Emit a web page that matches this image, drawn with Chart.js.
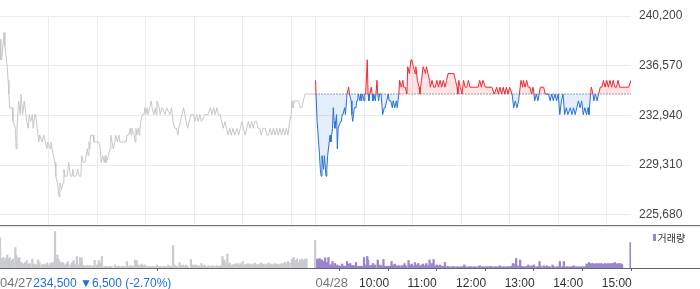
<!DOCTYPE html>
<html>
<head>
<meta charset="utf-8">
<script src="https://cdn.jsdelivr.net/npm/chart.js@4.4.1/dist/chart.umd.min.js"></script>
<style>
  html, body { margin:0; padding:0; background:#fff; }
  #wrap { position:relative; width:700px; height:289px; overflow:hidden; background:#fff; }
  #priceCanvas { position:absolute; left:0; top:0; }
  #volCanvas { position:absolute; left:0; top:226px; }
</style>
</head>
<body>
<div id="wrap">
  <canvas id="priceCanvas" width="700" height="240"></canvas>
  <canvas id="volCanvas" width="700" height="63"></canvas>
</div>
<script>
// ---------- data ----------
const prevClose = 234500;
const sessionMinutes = 390;           // 09:00 - 15:30
const yTicks = [225680, 229310, 232940, 236570, 240200];
const yMin = 224950, yMax = 240200;
const gridMinutes = [60,120,180,240,300,360,390,450,510,570,630,690,750];
const xTickMinutes = [0,390,450,510,570,630,690,750];
const xTickLabels = ['04/27','04/28','10:00','11:00','12:00','13:00','14:00','15:00'];
const infoText = '234,500 ▼6,500 (-2.70%)';
const legendText = '거래량';

// 04/27 (minutes after 09:00)
const day1Minutes = [
  0,1,2,5,6,7,9,10,11,12,
  15,16,19,20,21,23,25,26,28,30,
  31,33,35,36,38,40,41,43,44,46,
  48,49,52,54,56,58,59,62,63,66,
  68,69,71,73,74,76,78,79,80,83,
  85,87,89,90,91,94,96,98,100,101,
  103,105,108,109,110,111,112,115,116,120,
  122,124,125,127,129,130,131,134,136,137,
  140,142,143,145,147,148,151,153,156,157,
  159,161,162,163,166,167,168,169,171,172,
  173,174,176,178,179,180,182,183,185,187,
  188,190,192,193,194,197,198,200,201,204,
  206,210,212,214,216,218,220,221,223,225,
  227,230,232,234,236,239,241,243,245,247,
  249,253,257,260,262,264,266,268,270,272,
  274,276,278,280,282,284,286,288,290,293,
  295,297,299,301,303,305,307,309,311,313,
  315,317,319,321,323,325,328,330,332,334,
  336,338,340,342,344,346,348,350,352,354,
  356,358,360,361,362,364,367,369,371,373,
  375,377,381,390
];
const day1Prices = [
  238500,237000,237000,239000,238000,237500,236500,235500,234500,233500,
  233500,232500,232000,230500,232000,234000,233000,234500,233000,234000,
  233500,232500,232000,233000,232500,233000,232000,233000,233000,232000,
  231000,231500,231000,231500,231000,230500,231000,230500,231000,230000,
  229500,228500,228000,227000,228000,227500,228000,229000,228500,228500,
  229500,228500,228500,229000,228500,228500,229000,228500,228500,230000,
  229500,229500,230500,230000,231000,230500,231500,231500,231000,231000,
  231000,230500,229500,230000,229500,230000,229500,230000,230500,231500,
  230500,231000,231500,231000,231500,231000,231000,231000,231000,231500,
  231500,232000,231500,232000,231500,231000,232000,231500,232000,231500,
  232000,232500,233000,233000,233500,233000,233500,233000,233500,234000,
  233500,233000,233500,233000,234000,233500,233000,233500,233500,233000,
  233500,233000,233500,232500,232000,232000,231500,232000,232500,233000,
  233500,232500,232000,232500,233000,233000,232500,233000,232500,233000,
  232500,233000,233000,233500,233000,233500,233000,233500,233000,233000,
  232500,232000,232500,232000,231500,232000,231500,232000,231500,232000,
  231500,232000,232500,232000,231500,232000,232500,232000,232500,232000,
  232500,232500,232000,232000,231500,232000,232000,231500,231500,232000,
  231500,232000,231500,232000,231500,232000,231500,232000,231500,232000,
  231500,232500,233000,234000,233500,234000,234000,234000,233500,233500,
  234000,234500,234500,234500
];

// 04/28 (minutes after 09:00)
const day2Minutes = [
  0,2,5,6,7,8,10,11,13,14,
  15,17,18,19,21,22,23,24,26,27,
  28,29,31,32,33,34,36,37,39,40,
  41,42,44,45,46,47,48,50,51,52,
  53,55,56,57,58,60,61,62,64,65,
  66,67,69,70,71,72,74,76,77,78,
  79,81,83,85,86,88,90,91,93,95,
  96,98,100,101,103,104,106,108,109,111,
  113,114,116,118,119,121,123,124,126,128,
  129,131,133,134,136,137,139,141,142,144,
  146,148,150,152,154,156,158,160,162,164,
  168,171,173,175,176,177,179,181,183,185,
  187,189,191,197,201,203,205,207,210,218,
  221,224,226,228,230,232,234,236,238,240,
  243,245,247,249,251,252,254,256,257,259,
  261,263,265,267,269,271,273,275,278,282,
  284,288,290,292,294,296,298,300,302,304,
  306,308,310,312,315,317,319,321,323,325,
  327,329,331,333,335,337,338,340,341,343,
  344,346,348,350,352,354,356,358,360,362,
  364,366,368,370,372,374,376,383,387,390
];
const day2Prices = [
  235500,232500,230000,229000,228500,230000,229000,230000,228500,229000,
  230000,231000,231500,231000,232000,233500,232500,232000,233000,230500,
  232000,232000,232500,232500,233000,233000,233500,233000,234500,234500,
  235000,234500,234000,233000,232500,233000,233500,233500,234000,234000,
  234500,234000,234500,234000,234500,234000,234500,234500,237000,234500,
  234000,234500,235000,234500,234000,234500,234000,235500,234500,234000,
  234500,234500,233000,233500,233500,234000,234500,234000,234000,233500,
  234000,233500,234000,233500,234500,235500,235000,235500,235000,235000,
  234500,236500,236000,237000,237000,236500,236000,236500,235500,235000,
  234500,235500,236500,236500,236000,236500,236000,235500,235000,235500,
  235000,235000,235500,235000,235500,235000,235500,235000,235500,236000,
  236000,236000,235500,235000,234500,235500,235000,234500,235500,235000,
  235000,235500,235000,235000,235000,235500,235000,235500,235000,235000,
  234500,235000,234500,235000,234500,235000,234500,235000,234500,235000,
  234500,233500,234000,233500,234000,234500,235500,235000,235500,235000,
  235500,235000,235000,234500,235000,234000,234500,234000,235000,235000,
  234500,234500,234000,234500,234000,234500,234000,234500,233000,234000,
  234500,233000,233500,233000,233500,233000,233500,233000,233500,234000,
  233500,234000,233000,233500,233000,233500,233000,234500,235000,234500,
  234000,234500,234000,234500,235000,235000,235500,235000,235500,235000,
  235500,235000,235500,235000,235000,235500,235000,235000,235000,235500
];

// volume (shares) 04/27
const vol1Minutes = [
  0,1,2,4,6,7,8,9,11,12,
  14,16,19,20,21,23,24,26,27,29,
  31,33,35,37,40,41,43,45,47,49,
  52,54,56,58,60,62,64,66,67,68,
  70,71,72,73,75,77,78,80,82,84,
  87,89,91,93,95,97,99,101,103,105,
  108,110,112,115,117,120,122,124,126,129,
  131,134,136,138,142,145,147,150,152,155,
  157,159,161,163,166,167,169,171,173,175,
  177,179,182,184,187,189,192,194,196,198,
  200,203,205,208,210,212,214,216,219,222,
  224,226,228,230,232,236,238,240,242,245,
  247,249,251,253,256,258,261,263,266,268,
  271,273,275,277,278,280,281,283,284,286,
  288,290,293,295,297,298,300,302,303,305,
  307,309,311,313,315,317,319,321,323,325,
  328,330,332,334,336,338,340,342,344,346,
  348,350,352,354,356,358,361,363,365,367,
  369,371,373,375,377,379,389.5
];
const vol1Values = [
  6100,1800,1900,2100,1500,1900,800,2600,1800,2100,
  1500,1800,4100,2500,2000,1900,2100,1100,1000,800,
  1100,1500,800,900,1800,600,800,600,1600,1100,
  600,800,600,1000,600,900,1000,1100,900,7300,
  1800,2600,1800,1500,1100,800,1100,600,900,1300,
  600,1100,1500,600,2300,600,2100,2000,500,400,
  500,400,500,400,1500,600,1500,1000,2300,300,
  350,300,350,300,600,300,350,300,350,300,
  1300,300,450,450,300,1600,1500,600,450,800,
  500,600,350,300,300,350,300,600,300,350,
  300,350,300,600,300,350,4500,600,350,1100,
  500,600,450,600,350,1700,600,450,600,450,
  350,900,450,600,300,450,350,450,300,450,
  350,450,2300,1600,1100,600,2800,800,1000,600,
  600,800,900,600,900,600,1300,600,600,800,
  900,600,800,600,1000,700,600,800,1000,700,
  800,600,1000,700,800,600,900,700,800,600,
  900,800,1100,900,1300,1000,1800,2100,1500,1800,
  1100,1600,1800,1600,1800,1800,5500
];

// volume (shares) 04/28
const vol2Minutes = [
  1,2,3,5,6,7,8,10,12,14,
  16,18,19,21,22,24,26,27,28,30,
  32,33,35,37,39,41,43,44,46,48,
  50,52,54,56,57,59,60,62,64,65,
  67,69,70,71,73,74,77,78,80,82,
  84,86,88,90,92,94,96,98,100,102,
  104,107,108,110,112,115,117,119,121,123,
  125,127,129,131,133,135,137,139,141,142,
  144,146,148,150,152,154,156,158,160,163,
  165,168,170,172,175,177,180,182,184,186,
  189,191,193,196,198,201,203,206,208,211,
  213,216,218,221,223,226,228,231,233,236,
  238,240,242,244,245,247,248,250,253,255,
  257,259,261,263,265,267,269,270,273,275,
  277,279,282,284,286,288,290,293,295,298,
  300,302,305,307,310,312,315,317,319,321,
  323,326,328,331,333,335,337,338,340,342,
  343,345,347,348,350,352,353,355,357,358,
  360,362,363,365,367,368,370,372,374,375,
  377,379,389.5
];
const vol2Values = [
  1600,1800,1500,1900,1600,1400,1600,1300,2000,1100,
  2100,600,600,1300,400,900,400,600,350,400,
  350,800,400,350,1300,800,900,500,500,450,
  1100,350,350,350,350,350,2100,600,2300,1600,
  500,450,450,900,450,600,1600,450,600,400,
  1700,350,350,350,350,1300,600,800,450,450,
  450,450,450,900,450,1500,600,800,450,1100,
  600,900,450,600,800,450,900,450,1600,450,
  900,1700,450,600,450,600,350,350,1100,350,
  260,260,260,260,260,260,260,260,600,260,
  260,260,260,260,260,260,450,260,260,260,
  260,350,260,260,260,260,450,260,260,260,
  260,260,350,900,800,350,1900,450,1600,350,
  260,260,350,600,260,450,260,600,260,260,
  1300,260,450,260,450,260,260,600,260,260,
  260,1300,260,1300,260,260,260,260,450,260,
  260,260,260,260,260,800,600,1100,900,800,
  900,800,900,700,900,800,900,800,700,900,
  800,900,700,900,800,900,1100,800,900,800,
  900,700,5100
];
const volMax = 8200;

// ---------- styles ----------
const FONT = '"Liberation Sans", Arial, Helvetica, sans-serif';
const GRID = '#ebebeb';
const GRAY_LINE = '#c5c7cb';
const GRAY_VOL = '#c9cbce';
const PURPLE = '#9a84cb';
const RED = 'rgb(242,38,48)';
const BLUE = 'rgb(38,112,218)';
const RED_FILL = 'rgba(242,38,48,0.12)';
const BLUE_FILL = 'rgba(38,112,218,0.12)';

function pairs(xs, ys, offset) {
  const n = Math.min(xs.length, ys.length);
  const out = [];
  for (let i = 0; i < n; i++) out.push({ x: xs[i] + offset, y: ys[i] });
  return out;
}

function splitColor(ctx) {
  const chart = ctx.chart;
  const area = chart.chartArea;
  if (!area) return RED;
  const yb = chart.scales.y.getPixelForValue(prevClose);
  let f = (yb - area.top) / (area.bottom - area.top);
  f = Math.max(0, Math.min(1, f));
  const g = chart.ctx.createLinearGradient(0, area.top, 0, area.bottom);
  g.addColorStop(0, RED);
  g.addColorStop(f, RED);
  g.addColorStop(f, BLUE);
  g.addColorStop(1, BLUE);
  return g;
}

const priceBorder = {
  id: 'priceBorder',
  afterDraw(chart) {
    const { ctx, chartArea } = chart;
    const yb = Math.round(chartArea.bottom);
    ctx.save();
    ctx.fillStyle = '#777';
    ctx.fillRect(0, yb, chart.width, 1);
    ctx.fillStyle = '#e2e2e2';
    ctx.fillRect(0, yb + 1, chart.width, 1);
    ctx.restore();
  }
};

new Chart(document.getElementById('priceCanvas'), {
  type: 'line',
  data: {
    datasets: [
      { label: '04/27', data: pairs(day1Minutes, day1Prices, 0), borderColor: GRAY_LINE,
        borderWidth: 1, pointRadius: 0, fill: false, order: 2 },
      { label: '04/28', data: pairs(day2Minutes, day2Prices, sessionMinutes), borderColor: splitColor,
        borderWidth: 1, pointRadius: 0, order: 1,
        fill: { target: { value: prevClose }, above: RED_FILL, below: BLUE_FILL } },
      { label: 'prev', data: [{ x: sessionMinutes, y: prevClose }, { x: 2 * sessionMinutes, y: prevClose }],
        borderColor: '#444', borderWidth: 1, borderDash: [1, 2], pointRadius: 0, fill: false, order: 0 }
    ]
  },
  options: {
    responsive: false, animation: false, events: [],
    layout: { padding: { top: 16, bottom: 0, left: 0, right: 0 } },
    plugins: { legend: { display: false }, tooltip: { enabled: false } },
    scales: {
      x: {
        type: 'linear', min: 0, max: 2 * sessionMinutes,
        afterBuildTicks: s => { s.ticks = gridMinutes.map(v => ({ value: v })); },
        afterFit: s => { s.height = 0; },
        ticks: { display: false },
        grid: { color: GRID, drawTicks: false },
        border: { display: false }
      },
      y: {
        type: 'linear', position: 'right', min: yMin, max: yMax,
        afterBuildTicks: s => { s.ticks = yTicks.map(v => ({ value: v })); },
        afterFit: s => { s.width = 69; },
        ticks: { padding: 8, color: '#444', font: { family: FONT, size: 12 },
                 callback: v => Number(v).toLocaleString('en-US') },
        grid: { color: GRID, drawTicks: false },
        border: { display: false }
      }
    }
  },
  plugins: [priceBorder]
});

const volumeDecor = {
  id: 'volumeDecor',
  afterDraw(chart) {
    const { ctx, chartArea } = chart;
    const xs = chart.scales.x;
    ctx.save();
    ctx.fillStyle = '#666';
    ctx.fillRect(0, Math.round(chartArea.bottom), chart.width, 1);
    ctx.textBaseline = 'alphabetic';
    ctx.textAlign = 'left';
    const base = 61;
    let dateEnd = 0;
    xTickMinutes.forEach((m, i) => {
      const px = xs.getPixelForValue(m);
      const label = xTickLabels[i];
      const isDate = label.indexOf('/') >= 0;
      ctx.font = (isDate ? '13px ' : '12px ') + FONT;
      ctx.fillStyle = isDate ? '#777' : '#333';
      ctx.fillText(label, isDate ? px : px - 5, base);
      if (i === 0) dateEnd = px + ctx.measureText(label).width;
    });
    ctx.font = '12px ' + FONT;
    ctx.fillStyle = '#1f6fdc';
    ctx.fillText(infoText, dateEnd + 0.8, base);
    // legend
    ctx.fillStyle = PURPLE;
    ctx.fillRect(653, 8, 3, 7);
    ctx.fillStyle = '#333';
    ctx.font = '10px "Noto Sans CJK KR", sans-serif';
    ctx.textBaseline = 'middle';
    ctx.fillText(legendText, 657.5, 12.5);
    ctx.restore();
  }
};

new Chart(document.getElementById('volCanvas'), {
  type: 'bar',
  data: {
    datasets: [
      { label: '04/27', data: pairs(vol1Minutes, vol1Values, 0), backgroundColor: GRAY_VOL,
        barThickness: 1.6, grouped: false },
      { label: legendText, data: pairs(vol2Minutes, vol2Values, sessionMinutes), backgroundColor: PURPLE,
        barThickness: 1.6, grouped: false }
    ]
  },
  options: {
    responsive: false, animation: false, events: [],
    layout: { padding: { top: 1, bottom: 0, left: 0, right: 0 } },
    plugins: { legend: { display: false }, tooltip: { enabled: false } },
    scales: {
      x: {
        type: 'linear', offset: false, min: 0, max: 2 * sessionMinutes,
        afterBuildTicks: s => { s.ticks = xTickMinutes.map(v => ({ value: v })); },
        afterFit: s => { s.height = 21; },
        ticks: { display: false },
        grid: { drawOnChartArea: false, drawTicks: true, tickLength: 3, color: '#666' },
        border: { display: false }
      },
      y: {
        type: 'linear', position: 'right', min: 0, max: volMax,
        afterFit: s => { s.width = 69; },
        ticks: { display: false },
        grid: { display: false },
        border: { display: false }
      }
    }
  },
  plugins: [volumeDecor]
});
</script>
</body>
</html>
